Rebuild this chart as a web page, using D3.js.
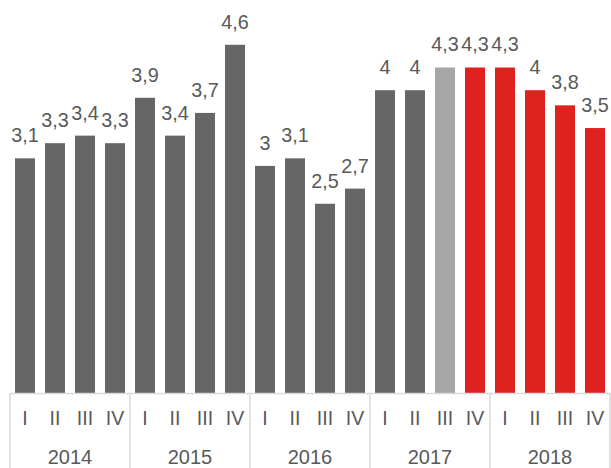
<!DOCTYPE html>
<html>
<head>
<meta charset="utf-8">
<script src="https://cdn.jsdelivr.net/npm/d3@7"></script>
<style>
  html, body { margin: 0; padding: 0; background: #fff; }
  svg { display: block; }
</style>
</head>
<body>
<svg id="chart" width="611" height="468"></svg>
<script>
// Quarterly values, grouped by year
const years = ["2014", "2015", "2016", "2017", "2018"];
const quarters = ["I", "II", "III", "IV"];
const values = [
  3.1, 3.3, 3.4, 3.3,
  3.9, 3.4, 3.7, 4.6,
  3.0, 3.1, 2.5, 2.7,
  4.0, 4.0, 4.3, 4.3,
  4.3, 4.0, 3.8, 3.5
];
// Bar kind per quarter: actual, estimate, forecast
const kinds = [
  "a", "a", "a", "a",
  "a", "a", "a", "a",
  "a", "a", "a", "a",
  "a", "a", "e", "f",
  "f", "f", "f", "f"
];

const colors = { a: "#666666", e: "#a6a6a6", f: "#dd2220" };

const data = values.map((v, i) => ({
  key: years[Math.floor(i / 4)] + "-" + quarters[i % 4],
  year: years[Math.floor(i / 4)],
  q: quarters[i % 4],
  value: v,
  kind: kinds[i]
}));

const svg = d3.select("#chart");
const left = 10, right = 610, baseY = 393, bottom = 468;

const x = d3.scaleBand()
  .domain(data.map(d => d.key))
  .range([left, right])
  .paddingInner(1 / 3)
  .paddingOuter(1 / 6);

const y = d3.scaleLinear().domain([0, 5]).range([baseY, baseY - 5 * 75.7]);

const fmt = v => String(v).replace(".", ",");

// Bars
svg.append("g").selectAll("rect")
  .data(data)
  .join("rect")
  .attr("x", d => x(d.key))
  .attr("y", d => y(d.value))
  .attr("width", x.bandwidth())
  .attr("height", d => baseY - y(d.value))
  .attr("fill", d => colors[d.kind]);

// Value labels
svg.append("g").selectAll("text")
  .data(data)
  .join("text")
  .attr("x", d => x(d.key) + x.bandwidth() / 2)
  .attr("y", d => y(d.value) - 16)
  .attr("text-anchor", "middle")
  .attr("font-family", "Liberation Sans, Arial, sans-serif")
  .attr("font-size", 19.8)
  .attr("fill", "#595959")
  .text(d => fmt(d.value));

// Category axis
const axis = svg.append("g");
axis.append("line")
  .attr("x1", left).attr("x2", right)
  .attr("y1", baseY + 0.5).attr("y2", baseY + 0.5)
  .attr("stroke", "#d9d9d9").attr("stroke-width", 1.5);

const step = x.step();
const groupW = step * 4;
const seps = d3.range(years.length + 1).map(i => left + i * groupW);
axis.selectAll("line.sep")
  .data(seps)
  .join("line")
  .attr("class", "sep")
  .attr("x1", d => d).attr("x2", d => d)
  .attr("y1", baseY).attr("y2", bottom)
  .attr("stroke", "#d9d9d9").attr("stroke-width", 1.5);

axis.selectAll("text.q")
  .data(data)
  .join("text")
  .attr("class", "q")
  .attr("x", d => x(d.key) + x.bandwidth() / 2)
  .attr("y", 425)
  .attr("text-anchor", "middle")
  .attr("font-family", "Liberation Sans, Arial, sans-serif")
  .attr("font-size", 19.5)
  .attr("fill", "#595959")
  .text(d => d.q);

axis.selectAll("text.yr")
  .data(years)
  .join("text")
  .attr("class", "yr")
  .attr("x", (d, i) => left + i * groupW + groupW / 2)
  .attr("y", 464)
  .attr("text-anchor", "middle")
  .attr("font-family", "Liberation Sans, Arial, sans-serif")
  .attr("font-size", 20)
  .attr("fill", "#595959")
  .text(d => d);
</script>
</body>
</html>
